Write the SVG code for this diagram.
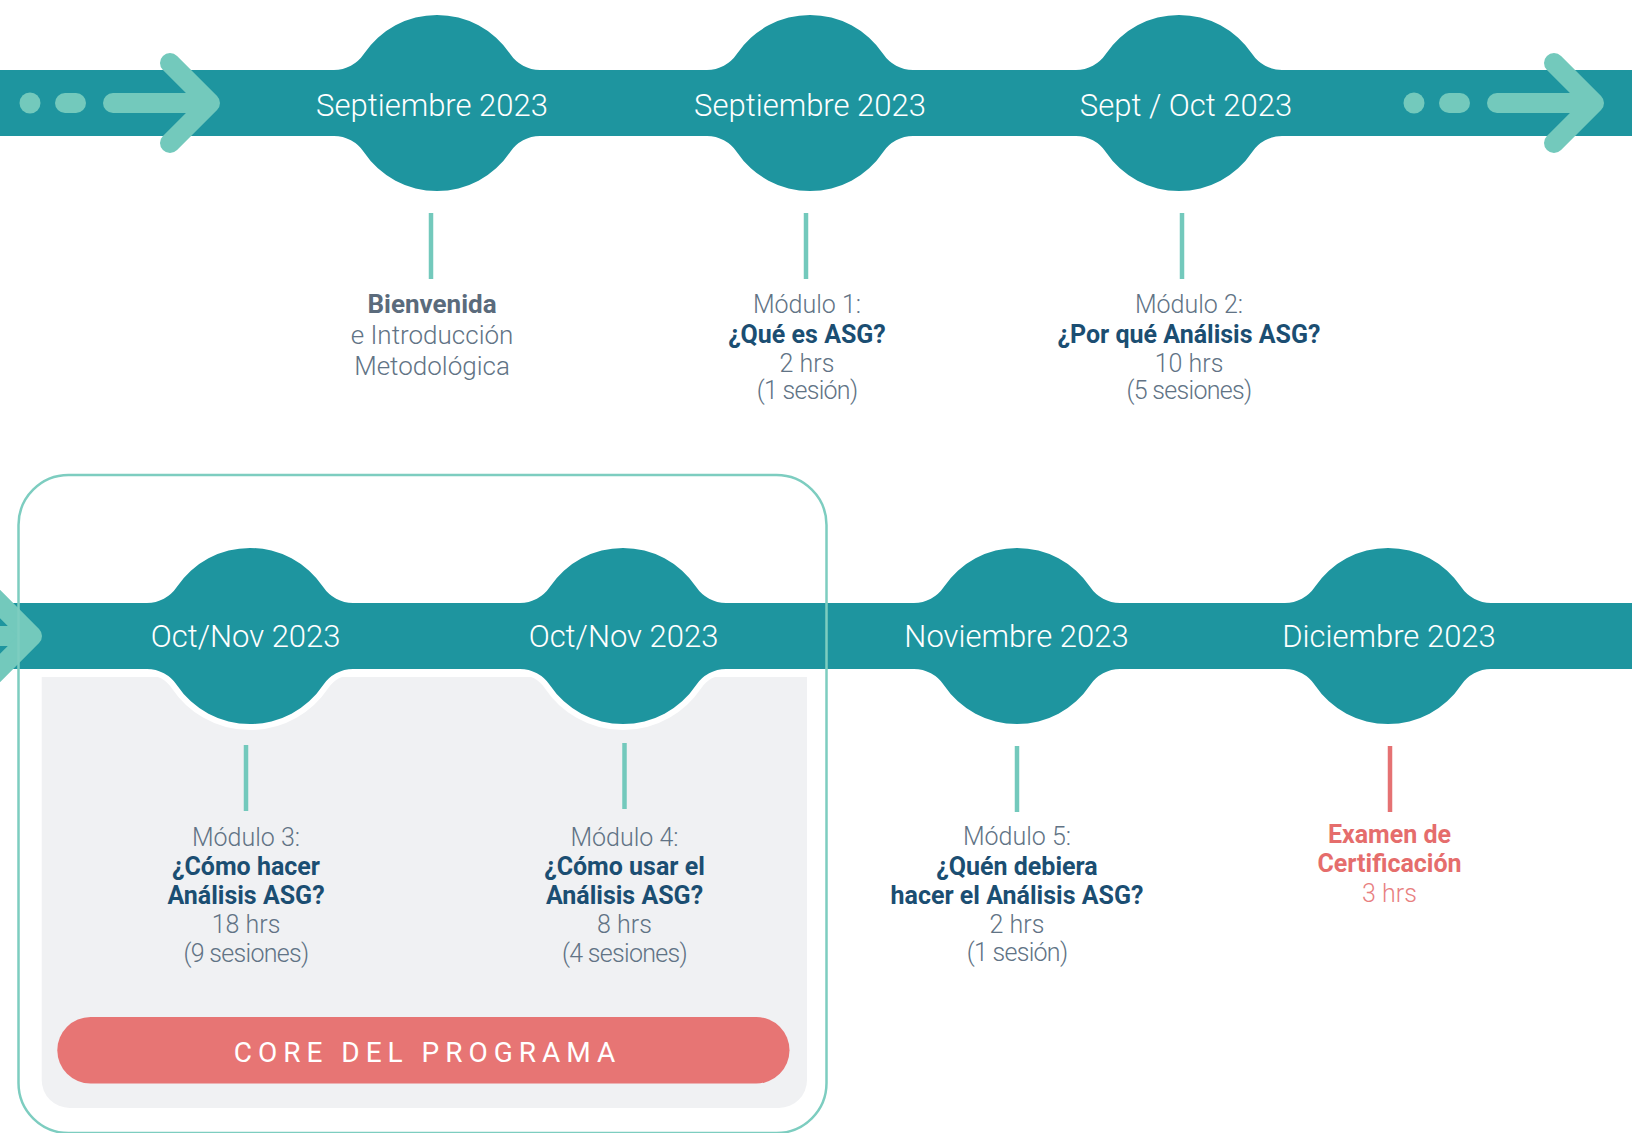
<svg xmlns="http://www.w3.org/2000/svg" xmlns:xlink="http://www.w3.org/1999/xlink" width="1632" height="1133" viewBox="0 0 1632 1133">
  <style>
    .band { fill: #1E959F; }
    .halo { fill: #FFFFFF; stroke: #FFFFFF; stroke-width: 12; stroke-linejoin: round; }
    .arrow { fill: none; stroke: #73C9BC; stroke-width: 20; stroke-linecap: round; stroke-linejoin: round; }
    .dot { fill: #73C9BC; }
    .date { font-family: Roboto, "Open Sans", "Liberation Sans", sans-serif; font-weight: 300; font-size: 31px; fill: #FFFFFF; text-anchor: middle; }
    .t { font-family: Roboto, "Open Sans", "Liberation Sans", sans-serif; font-size: 25px; text-anchor: middle; }
    .lt { font-weight: 300; fill: #617385; }
    .ses { letter-spacing: -0.7px; }
    .bd { font-weight: 700; fill: #1B4E72; }
    .bw { font-weight: 700; fill: #5B6B7C; }
    .ex { font-weight: 700; fill: #E56D6C; }
    .exl { font-weight: 300; fill: #E8807F; }
    .tick { stroke: #73C9BC; stroke-width: 4.5; }
    .tick-red { stroke: #E57273; stroke-width: 4.5; }
  </style>
  <defs>
    <path id="bubble" d="M -103,-33 A 36 36 0 0 0 -73.2,-48.9 A 88 88 0 0 1 73.2,-48.9 A 36 36 0 0 0 103,-33 L 103,33 A 36 36 0 0 0 73.2,48.9 A 88 88 0 0 1 -73.2,48.9 A 36 36 0 0 0 -103,33 Z"/>
  </defs>

  <rect width="1632" height="1133" fill="#FFFFFF"/>

  <!-- Core area background -->
  <g id="core-area">
    <path d="M 41.7,677 L 807,677 L 807,1080 A 28 28 0 0 1 779,1108 L 69.7,1108 A 28 28 0 0 1 41.7,1080 Z" fill="#F0F1F3"/>
  </g>

  <!-- Top timeline band -->
  <g id="timeline-top">
    <rect class="band" x="0" y="70" width="1632" height="66"/>
    <g id="arrow-top-left">
      <circle class="dot" cx="30" cy="103" r="10.5"/>
      <line class="arrow" x1="65" y1="103" x2="76" y2="103"/>
      <line class="arrow" x1="113" y1="103" x2="200" y2="103"/>
      <polyline class="arrow" points="170,63 210,103 170,143"/>
    </g>
    <g id="arrow-top-right">
      <circle class="dot" cx="1414" cy="103" r="10.5"/>
      <line class="arrow" x1="1449" y1="103" x2="1460" y2="103"/>
      <line class="arrow" x1="1497" y1="103" x2="1584" y2="103"/>
      <polyline class="arrow" points="1554,63 1594,103 1554,143"/>
    </g>
  </g>

  <!-- Bottom timeline band: halo layer -->
  <g id="timeline-bottom-halo">
    <rect class="halo" x="-20" y="603" width="1680" height="66"/>
    <use class="halo" xlink:href="#bubble" href="#bubble" transform="translate(250,636)"/>
    <use class="halo" xlink:href="#bubble" href="#bubble" transform="translate(623,636)"/>
    <use class="halo" xlink:href="#bubble" href="#bubble" transform="translate(1017,636)"/>
    <use class="halo" xlink:href="#bubble" href="#bubble" transform="translate(1388,636)"/>
  </g>
  <g id="timeline-bottom">
    <rect class="band" x="0" y="603" width="1632" height="66"/>
    <g id="arrow-bottom-left">
      <line class="arrow" x1="-30" y1="636" x2="22" y2="636"/>
      <polyline class="arrow" points="-8,596 32,636 -8,676"/>
    </g>
  </g>

  <!-- Nodes -->
  <g id="node-bienvenida">
    <use class="band" xlink:href="#bubble" href="#bubble" transform="translate(437,103)"/>
    <text class="date" x="432" y="116">Septiembre 2023</text>
    <text class="t bw" x="432" y="312.5" style="font-size:26px">Bienvenida</text>
    <text class="t lt" x="432" y="343.5" style="font-size:26px">e Introducción</text>
    <text class="t lt" x="432" y="375" style="font-size:26px">Metodológica</text>
  </g>

  <g id="node-modulo1">
    <use class="band" xlink:href="#bubble" href="#bubble" transform="translate(810,103)"/>
    <text class="date" x="810" y="116">Septiembre 2023</text>
    <text class="t lt" x="807" y="312.5">Módulo 1:</text>
    <text class="t bd" x="807" y="342.5">¿Qué es ASG?</text>
    <text class="t lt" x="807" y="371.5">2 hrs</text>
    <text class="t lt ses" x="807" y="399">(1 sesión)</text>
  </g>

  <g id="node-modulo2">
    <use class="band" xlink:href="#bubble" href="#bubble" transform="translate(1179,103)"/>
    <text class="date" x="1186" y="116">Sept / Oct 2023</text>
    <text class="t lt" x="1189" y="312.5">Módulo 2:</text>
    <text class="t bd" x="1189" y="342.5">¿Por qué Análisis ASG?</text>
    <text class="t lt" x="1189" y="371.5">10 hrs</text>
    <text class="t lt ses" x="1189" y="399">(5 sesiones)</text>
  </g>

  <g id="node-modulo3">
    <use class="band" xlink:href="#bubble" href="#bubble" transform="translate(250,636)"/>
    <text class="date" x="245.6" y="647">Oct/Nov 2023</text>
    <text class="t lt" x="246" y="845.5">Módulo 3:</text>
    <text class="t bd" x="246" y="875">¿Cómo hacer</text>
    <text class="t bd" x="246" y="904">Análisis ASG?</text>
    <text class="t lt" x="246" y="933">18 hrs</text>
    <text class="t lt ses" x="246" y="961.5">(9 sesiones)</text>
  </g>

  <g id="node-modulo4">
    <use class="band" xlink:href="#bubble" href="#bubble" transform="translate(623,636)"/>
    <text class="date" x="623.5" y="647">Oct/Nov 2023</text>
    <text class="t lt" x="624.5" y="845.5">Módulo 4:</text>
    <text class="t bd" x="624.5" y="875">¿Cómo usar el</text>
    <text class="t bd" x="624.5" y="904">Análisis ASG?</text>
    <text class="t lt" x="624.5" y="933">8 hrs</text>
    <text class="t lt ses" x="624.5" y="961.5">(4 sesiones)</text>
  </g>

  <g id="node-modulo5">
    <use class="band" xlink:href="#bubble" href="#bubble" transform="translate(1017,636)"/>
    <text class="date" x="1016.5" y="647">Noviembre 2023</text>
    <text class="t lt" x="1017" y="845">Módulo 5:</text>
    <text class="t bd" x="1017" y="875">¿Quén debiera</text>
    <text class="t bd" x="1017" y="903.5">hacer el Análisis ASG?</text>
    <text class="t lt" x="1017" y="932.5">2 hrs</text>
    <text class="t lt ses" x="1017" y="961">(1 sesión)</text>
  </g>

  <g id="node-examen">
    <use class="band" xlink:href="#bubble" href="#bubble" transform="translate(1388,636)"/>
    <text class="date" x="1389" y="647">Diciembre 2023</text>
    <text class="t ex" x="1389.5" y="843">Examen de</text>
    <text class="t ex" x="1389.5" y="872">Certificación</text>
    <text class="t exl" x="1389.5" y="901.5">3 hrs</text>
  </g>

  <!-- Connectors -->
  <g id="connectors">
    <line class="tick" x1="431" y1="213" x2="431" y2="279"/>
    <line class="tick" x1="806" y1="213" x2="806" y2="279"/>
    <line class="tick" x1="1182" y1="213" x2="1182" y2="279"/>
    <line class="tick" x1="246" y1="745" x2="246" y2="811"/>
    <line class="tick" x1="624.5" y1="743" x2="624.5" y2="809"/>
    <line class="tick" x1="1017" y1="746" x2="1017" y2="812"/>
    <line class="tick-red" x1="1390" y1="746" x2="1390" y2="812"/>
  </g>

  <!-- Core outline and label -->
  <g id="core-outline">
    <rect x="18.5" y="475" width="808" height="658" rx="50" ry="50" fill="none" stroke="#7DCDC0" stroke-width="2.5"/>
  </g>
  <g id="core-label">
    <rect x="57.3" y="1017" width="732.2" height="66.5" rx="33.25" ry="33.25" fill="#E77574"/>
    <text x="427.5" y="1062" style="font-family: Roboto, 'Open Sans', 'Liberation Sans', sans-serif; font-size: 28px; font-weight: 400; fill: #FFFFFF; letter-spacing: 6px; text-anchor: middle;">CORE DEL PROGRAMA</text>
  </g>
</svg>
